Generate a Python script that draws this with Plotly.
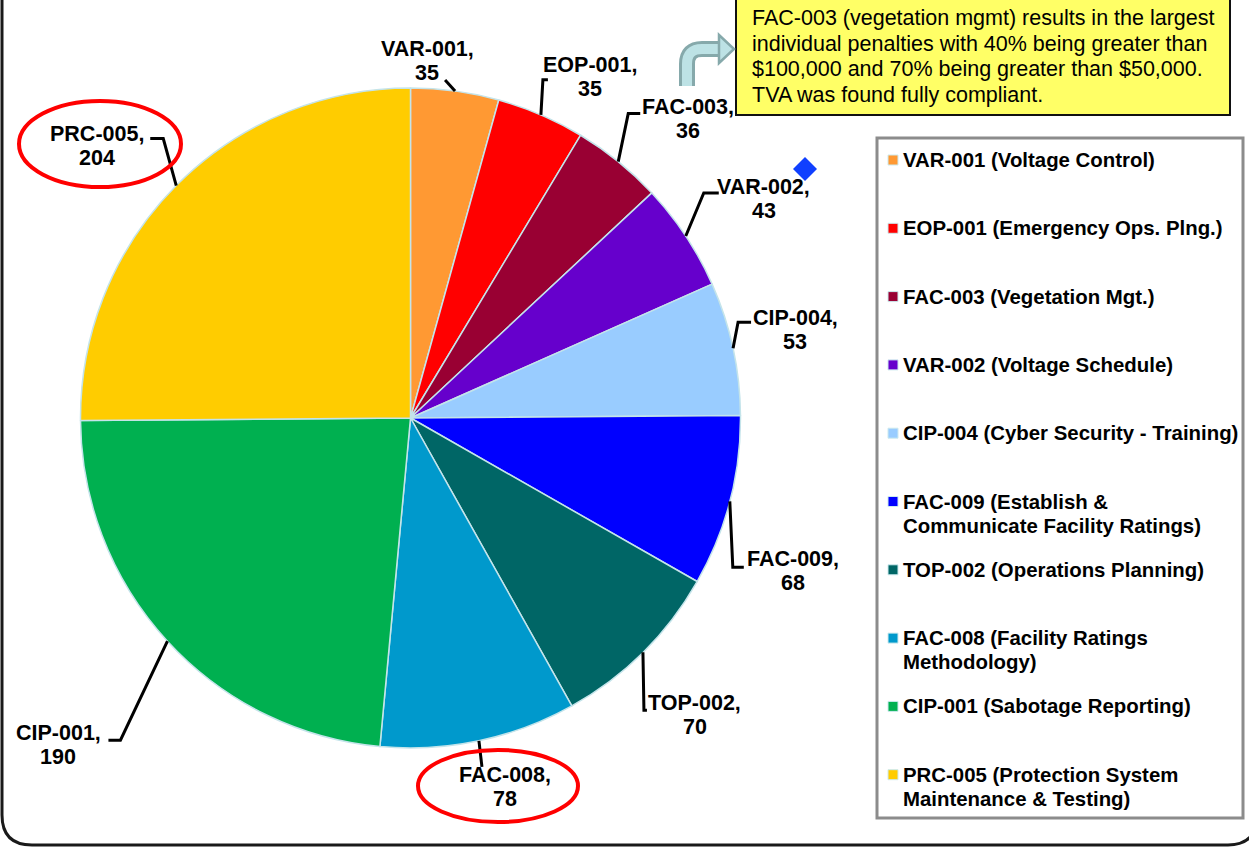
import math
import numpy as np
import plotly.graph_objects as go

# ---------------- data ----------------
codes = ["VAR-001", "EOP-001", "FAC-003", "VAR-002", "CIP-004",
         "FAC-009", "TOP-002", "FAC-008", "CIP-001", "PRC-005"]
values = [35, 35, 36, 43, 53, 68, 70, 78, 190, 204]
legend_lines = [
    ["VAR-001 (Voltage Control)"],
    ["EOP-001 (Emergency Ops. Plng.)"],
    ["FAC-003 (Vegetation Mgt.)"],
    ["VAR-002 (Voltage Schedule)"],
    ["CIP-004 (Cyber Security - Training)"],
    ["FAC-009 (Establish &", "Communicate Facility Ratings)"],
    ["TOP-002 (Operations Planning)"],
    ["FAC-008 (Facility Ratings", "Methodology)"],
    ["CIP-001 (Sabotage Reporting)"],
    ["PRC-005 (Protection System", "Maintenance & Testing)"],
]
note_lines = [
    "FAC-003 (vegetation mgmt) results in the largest",
    "individual penalties with 40% being greater than",
    "$100,000 and 70% being greater than $50,000.",
    "TVA was found fully compliant.",
]
highlighted = ["PRC-005", "FAC-008"]

# ---------------- style ----------------
colors = ["#FF9933", "#FF0000", "#990033", "#6600CC", "#99CCFF",
          "#0000FF", "#006666", "#0099CC", "#00B050", "#FFCC00"]
# leader-line layout per label: (elbow dx, elbow dy, stub, text dx, text dy) in px
label_layout = [
    (-10, -11, 0, -18, -19),
    (2, -35, 5, 47, -3),
    (10, -48, 12, 60, 5),
    (18, -43, 15, 60, 6),
    (5, -26, 13, 57, 8),
    (3, 66, 11, 60, 4),
    (1, 58, 3, 51, 5),
    (3, 26, 0, 23, 20),
    (-47, 99, -12, -62, 5),
    (-13, -47, -13, -66, 7),
]
ellipse_layout = {"PRC-005": (100, 144, 81, 43), "FAC-008": (498, 786, 80, 36)}

W, H = 1249, 847
FONT = "Liberation Sans, Arial, sans-serif"


def X(x):
    return x / W


def Y(y):
    return 1 - y / H


# pie placement (pixels)
cx, cy, R = 410.5, 418.0, 330.0

fig = go.Figure()
fig.add_trace(go.Pie(
    labels=codes, values=values, sort=False, direction="clockwise", rotation=0,
    marker=dict(colors=colors, line=dict(color="#C4E4EA", width=1.5)),
    textinfo="none", hoverinfo="label+value", showlegend=False,
    domain=dict(x=[X(cx - R), X(cx + R)], y=[Y(cy + R), Y(cy - R)]),
))

shapes = []
annotations = []

# outer rounded frame
shapes.append(dict(type="path", xref="paper", yref="paper",
                   path=f"M {X(2)},{Y(-5)} L {X(2)},{Y(815)} Q {X(2)},{Y(845)} {X(32)},{Y(845)} "
                        f"L {X(1228)},{Y(845)} Q {X(1258)},{Y(845)} {X(1258)},{Y(812)} L {X(1258)},{Y(-5)}",
                   line=dict(color="#1a1a1a", width=3)))

# labels with leader lines
total = sum(values)
cum = np.cumsum(values)
for i, (code, v) in enumerate(zip(codes, values)):
    mid = (cum[i] - v / 2) / total * 2 * math.pi
    ex, ey = cx + R * math.sin(mid), cy - R * math.cos(mid)
    dx, dy, stub, tx, ty = label_layout[i]
    px_, py_ = ex + dx, ey + dy
    path = f"M {X(ex)},{Y(ey)} L {X(px_)},{Y(py_)}"
    if stub:
        path += f" L {X(px_ + stub)},{Y(py_)}"
    shapes.append(dict(type="path", xref="paper", yref="paper", path=path,
                       line=dict(color="black", width=3)))
    tcx, tcy = px_ + tx, py_ + ty
    for k, txt in enumerate([f"<b>{code},</b>", f"<b>{v}</b>"]):
        annotations.append(dict(x=X(tcx), y=Y(tcy - 12 + 24 * k), xref="paper", yref="paper",
                                text=txt, showarrow=False, xanchor="center", yanchor="middle",
                                font=dict(family=FONT, size=21.5, color="black")))

# red ellipses around highlighted labels
for code in highlighted:
    ex0, ey0, rx, ry = ellipse_layout[code]
    shapes.append(dict(type="circle", xref="paper", yref="paper",
                       x0=X(ex0 - rx), x1=X(ex0 + rx), y0=Y(ey0 + ry), y1=Y(ey0 - ry),
                       line=dict(color="#FF0000", width=4)))

# legend box
shapes.append(dict(type="rect", xref="paper", yref="paper",
                   x0=X(877), x1=X(1243), y0=Y(818), y1=Y(138),
                   line=dict(color="#8C8C8C", width=3), fillcolor="white"))
for i, lines in enumerate(legend_lines):
    y0 = 160 + 68.3 * i
    shapes.append(dict(type="rect", xref="paper", yref="paper",
                       x0=X(888), x1=X(898), y0=Y(y0 + 5), y1=Y(y0 - 5),
                       line=dict(color="#CDEAEE", width=1), fillcolor=colors[i]))
    for k, line in enumerate(lines):
        annotations.append(dict(x=X(901), y=Y(y0 + 24 * k), xref="paper", yref="paper",
                                text=f"<b>{line}</b>", showarrow=False,
                                xanchor="left", yanchor="middle",
                                font=dict(family=FONT, size=20.4, color="black")))

# yellow note box
shapes.append(dict(type="rect", xref="paper", yref="paper",
                   x0=X(736), x1=X(1230), y0=Y(115), y1=Y(-4),
                   line=dict(color="#111111", width=2), fillcolor="#FFFF66"))
for k, line in enumerate(note_lines):
    annotations.append(dict(x=X(750), y=Y(18 + 25.7 * k), xref="paper", yref="paper",
                            text=line, showarrow=False, xanchor="left", yanchor="middle",
                            font=dict(family=FONT, size=21.5, color="black")))

# bent arrow
arrow_path = f"M {X(687)},{Y(86)} L {X(687)},{Y(64)} Q {X(687)},{Y(49)} {X(702)},{Y(49)} L {X(721)},{Y(49)}"
shapes.append(dict(type="path", xref="paper", yref="paper", path=arrow_path,
                   line=dict(color="#86A9AB", width=16)))
shapes.append(dict(type="path", xref="paper", yref="paper", path=arrow_path,
                   line=dict(color="#BDE2E5", width=10)))
shapes.append(dict(type="path", xref="paper", yref="paper",
                   path=f"M {X(719)},{Y(35)} L {X(734)},{Y(49)} L {X(719)},{Y(63)} Z",
                   line=dict(color="#86A9AB", width=2.5), fillcolor="#BDE2E5"))

# blue diamond
dcx, dcy, dr = 805, 169, 12
shapes.append(dict(type="path", xref="paper", yref="paper",
                   path=f"M {X(dcx)},{Y(dcy - dr)} L {X(dcx + dr)},{Y(dcy)} L {X(dcx)},{Y(dcy + dr)} L {X(dcx - dr)},{Y(dcy)} Z",
                   line=dict(color="#1040FF", width=0), fillcolor="#1040FF"))

fig.update_layout(
    width=W, height=H, margin=dict(l=0, r=0, t=0, b=0),
    paper_bgcolor="white", plot_bgcolor="white",
    shapes=shapes, annotations=annotations,
    showlegend=False,
)
fig.write_html("out.html", config={"displayModeBar": False},
               post_script="document.body.style.margin='0';document.body.style.overflow='hidden';")
